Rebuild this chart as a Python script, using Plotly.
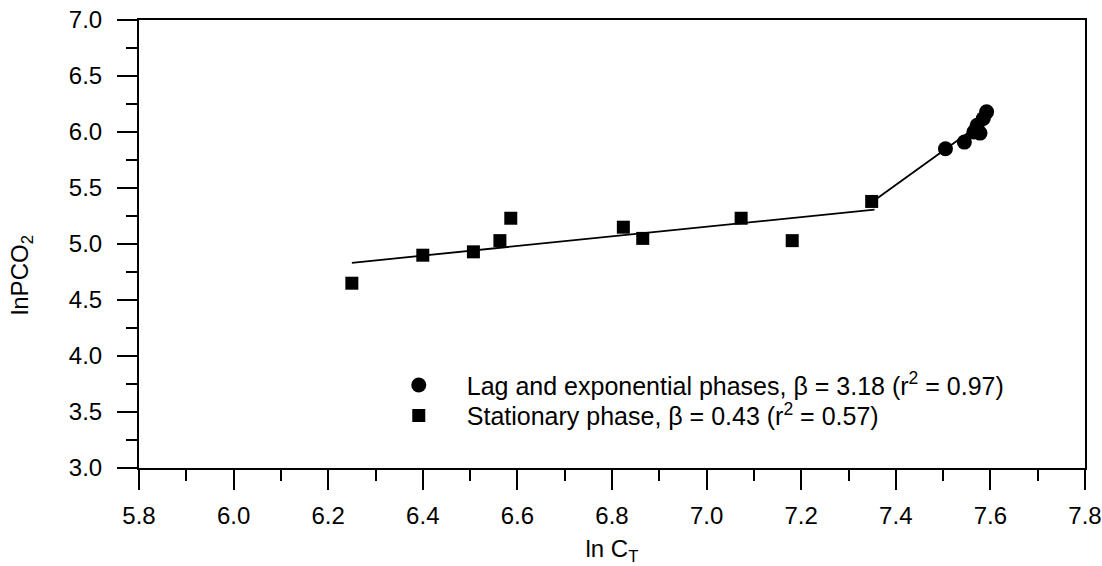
import plotly.graph_objects as go

# Data
lag_x = [7.505, 7.545, 7.565, 7.572, 7.578, 7.585, 7.592]
lag_y = [5.85, 5.91, 6.00, 6.06, 5.99, 6.12, 6.18]

stat_x = [6.25, 6.40, 6.507, 6.563, 6.586, 6.824, 6.865, 7.073, 7.181, 7.349]
stat_y = [4.65, 4.90, 4.93, 5.03, 5.23, 5.15, 5.05, 5.23, 5.03, 5.38]

# fitted lines
stat_fit_x = [6.25, 7.355]
stat_fit_y = [4.832, 5.307]
lag_fit_x = [7.355, 7.595]
lag_fit_y = [5.39, 6.12]

x_ticks = [5.8, 6.0, 6.2, 6.4, 6.6, 6.8, 7.0, 7.2, 7.4, 7.6, 7.8]
y_ticks = [3.0, 3.5, 4.0, 4.5, 5.0, 5.5, 6.0, 6.5, 7.0]

FONT = "Liberation Sans, Arial, sans-serif"

fig = go.Figure()
fig.add_trace(go.Scatter(x=stat_fit_x, y=stat_fit_y, mode="lines",
                         line=dict(color="black", width=1.8), showlegend=False))
fig.add_trace(go.Scatter(x=lag_fit_x, y=lag_fit_y, mode="lines",
                         line=dict(color="black", width=1.8), showlegend=False))
fig.add_trace(go.Scatter(x=lag_x, y=lag_y, mode="markers",
                         name="Lag and exponential phases, \u03b2 = 3.18 (r<sup>2</sup> = 0.97)",
                         marker=dict(symbol="circle", size=15, color="black"),
                         legend="legend"))
fig.add_trace(go.Scatter(x=stat_x, y=stat_y, mode="markers",
                         name="Stationary phase, \u03b2 = 0.43 (r<sup>2</sup> = 0.57)",
                         marker=dict(symbol="square", size=13, color="black"),
                         legend="legend2"))

axis_common = dict(showline=True, linecolor="black", linewidth=2, mirror=True,
                   ticks="outside", tickcolor="black", tickwidth=1.5, ticklen=20,
                   showgrid=False, zeroline=False, automargin=False,
                   tickfont=dict(family=FONT, size=24, color="black"))

fig.update_xaxes(range=[5.8, 7.8], tickvals=x_ticks,
                 ticktext=[f"{v:.1f}" for v in x_ticks],
                 ticklabelstandoff=5,
                 minor=dict(ticks="outside", dtick=0.1, ticklen=11, tickcolor="black", tickwidth=1.5),
                 title=dict(text="ln C<sub>T</sub>", font=dict(family=FONT, size=24, color="black")),
                 **axis_common)
fig.update_yaxes(range=[3.0, 7.0], tickvals=y_ticks,
                 ticktext=[f"{v:.1f}" for v in y_ticks],
                 ticklabelstandoff=10,
                 minor=dict(ticks="outside", dtick=0.25, ticklen=11, tickcolor="black", tickwidth=1.5),
                 **axis_common)

legend_common = dict(xanchor="left", yanchor="top", bgcolor="rgba(0,0,0,0)", itemwidth=86,
                     font=dict(family=FONT, size=25, color="black"))

fig.update_layout(
    width=1102, height=566,
    margin=dict(l=139, r=17, t=20, b=98),
    paper_bgcolor="white", plot_bgcolor="white",
    font=dict(family=FONT, size=24, color="black"),
    showlegend=True,
    legend=dict(x=0.245, y=0.236, **legend_common),
    legend2=dict(x=0.245, y=0.168, **legend_common),
    annotations=[dict(text="lnPCO<sub>2</sub>", xref="paper", yref="paper",
                      x=-0.124, y=0.43, xanchor="center", yanchor="middle",
                      textangle=-90, showarrow=False,
                      font=dict(family=FONT, size=24, color="black"))],
)

fig.write_html("out.html")
